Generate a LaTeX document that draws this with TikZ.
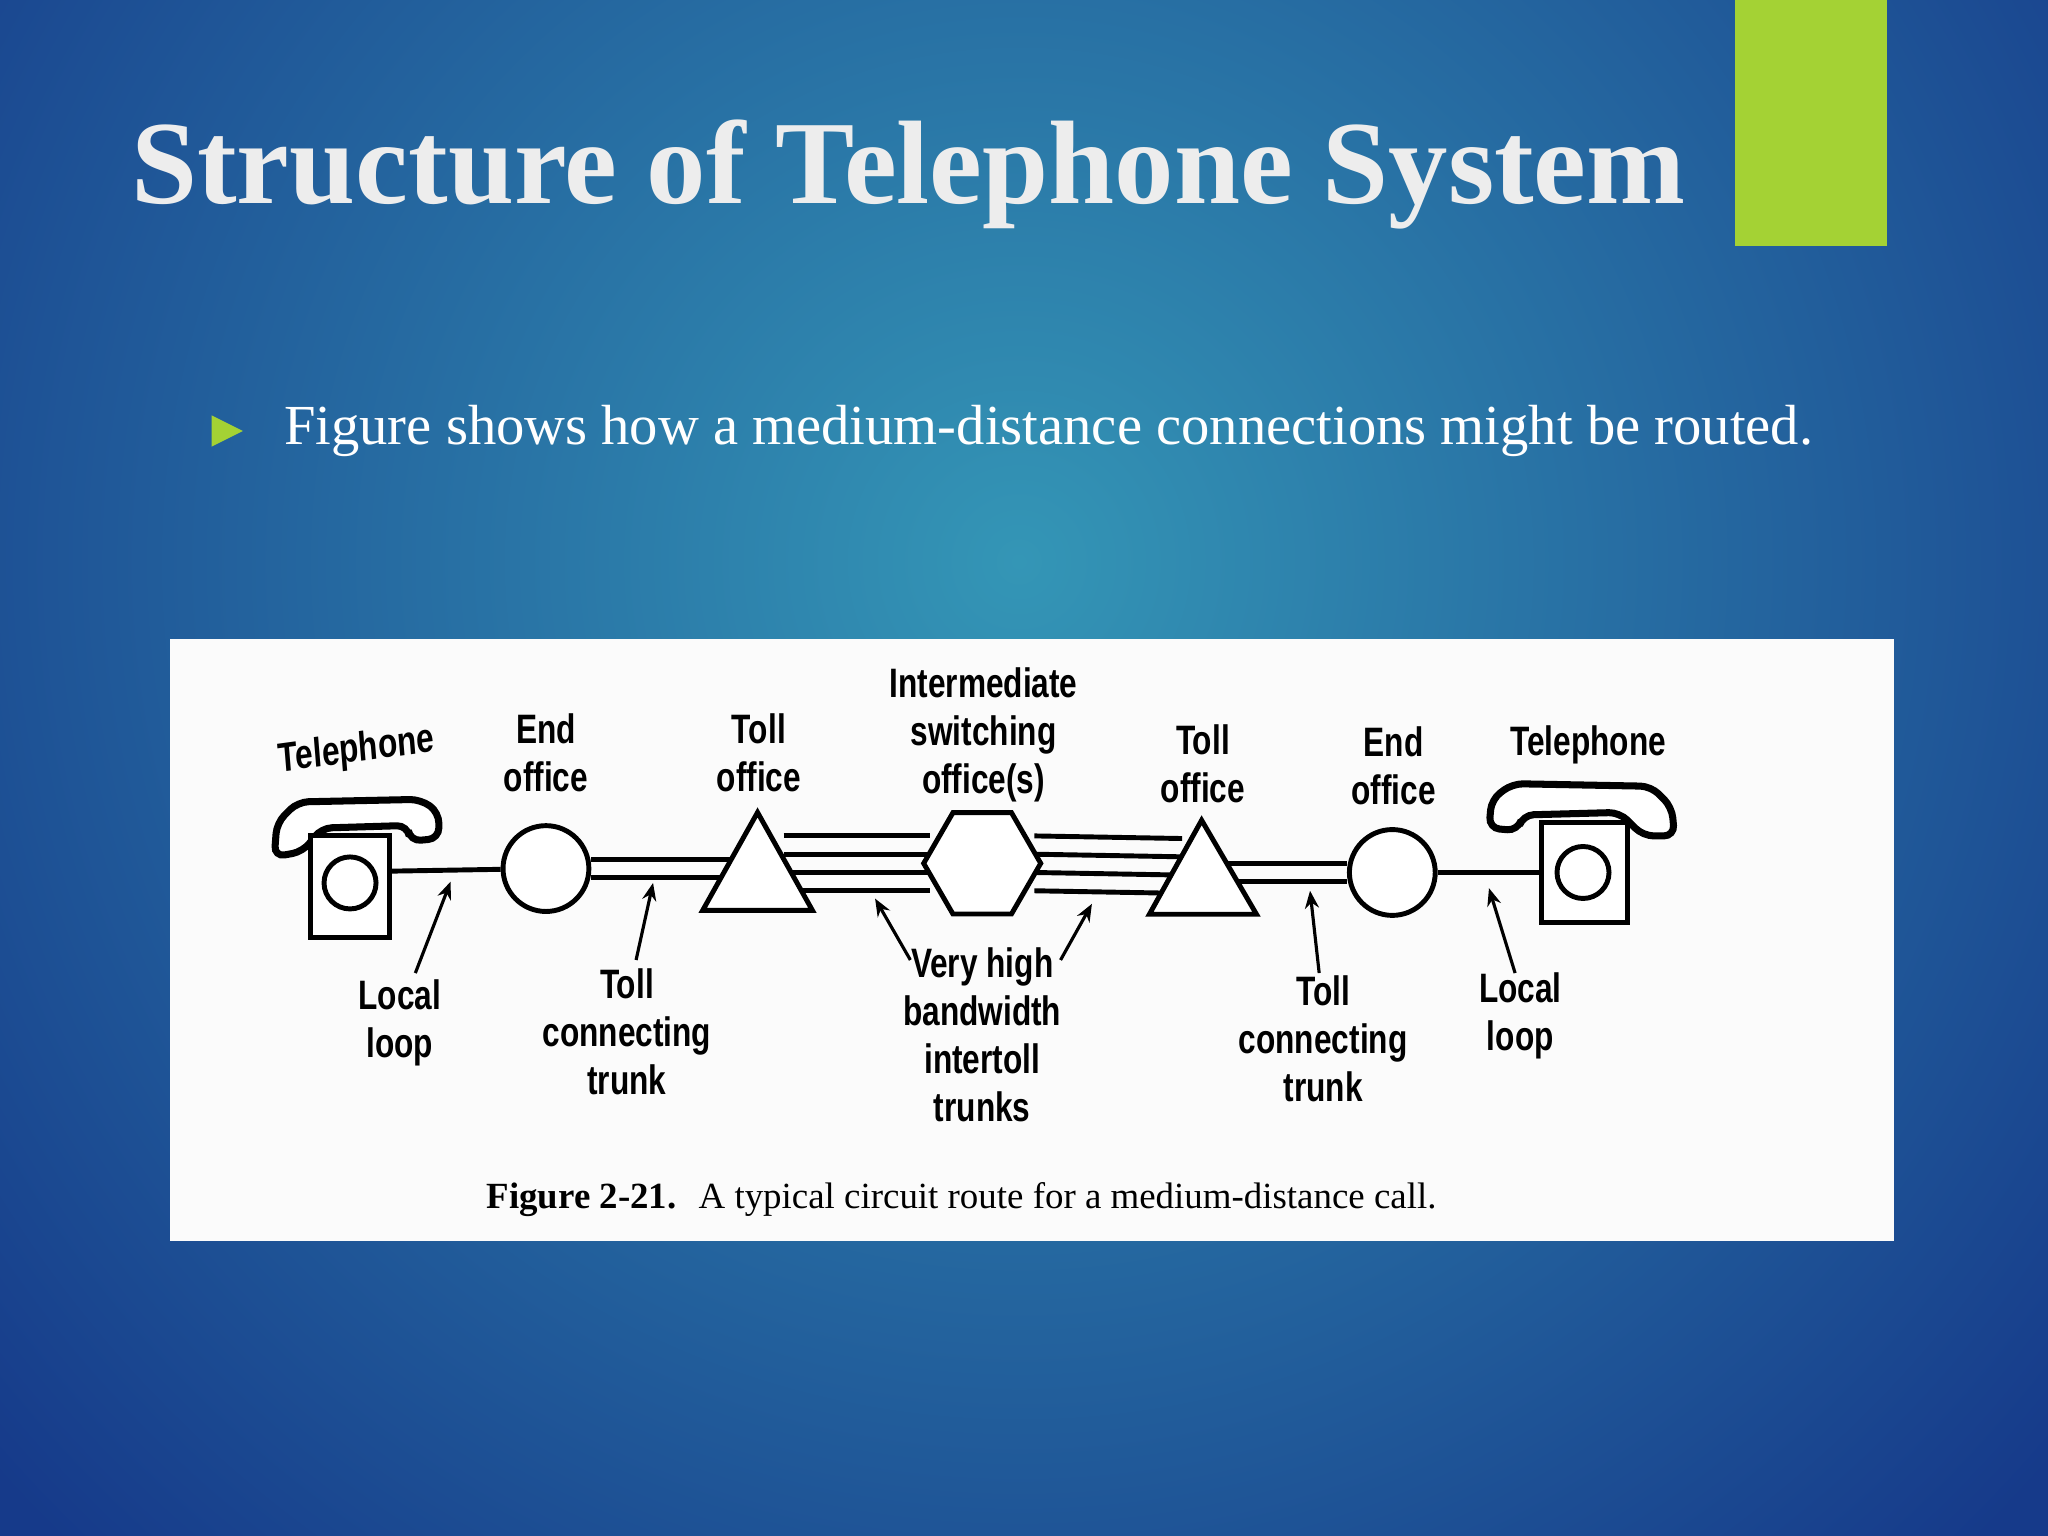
\documentclass[tikz,border=0pt]{standalone}
\usepackage{fontspec}
\setmainfont{Liberation Serif}
\newfontfamily\lab{Liberation Sans}
\usetikzlibrary{shapes.geometric,arrows.meta}
\definecolor{bgdark}{RGB}{22,58,138}
\definecolor{bglight}{RGB}{52,150,182}
\definecolor{accent}{RGB}{164,210,52}
\tikzset{
  lbl/.style={font=\lab\bfseries\fontsize{9}{10.5}\selectfont, align=center, inner sep=0pt, yscale=1.3, transform shape},
  ln/.style={line width=1.4pt, black},
  arr/.style={line width=0.9pt, -{Stealth[length=5pt,width=4pt]}},
}
\begin{document}
\begin{tikzpicture}[x=0.013061cm,y=-0.013061cm]
\useasboundingbox (0,0) rectangle (1568,1176);
\fill[bgdark] (0,0) rectangle (1568,1176);
\begin{scope}
\clip (0,0) rectangle (1568,1176);
\shade[inner color=bglight, outer color=bgdark] (780,430) circle (1050);
\end{scope}
\fill[accent] (1328,0) rectangle (1445,188);
\node[anchor=base west, inner sep=0pt, text=white!93!black, font=\bfseries\fontsize{33.8}{40}\selectfont] (title) at (100,156) {Structure of Telephone System};
\fill[accent] (162,318) -- (186,330) -- (162,342) -- cycle;
\node[anchor=base west, inner sep=0pt, text=white, font=\fontsize{16.1}{19}\selectfont] (bullet) at (217,340) {Figure shows how a medium-distance connections might be routed.};
\fill[white!97!gray] (130,489) rectangle (1450,950);
% left telephone
\draw[line width=2pt, fill=white, rounded corners=3pt] (210,656) -- (212,630) -- (228,614) -- (322,612) -- (336,622) -- (336,642) -- (314,644) -- (312,632) -- (246,634) -- (232,652) -- cycle;
\draw[ln, fill=white] (238,640) rectangle (298,718);
\node[circle, draw, line width=1.4pt, minimum size=40pt*0.37] (tl) at (268,676) {};
% right telephone
\draw[line width=2pt, fill=white, rounded corners=3pt] (1282,640) -- (1280,618) -- (1264,602) -- (1158,600) -- (1142,612) -- (1140,634) -- (1162,636) -- (1166,624) -- (1240,622) -- (1258,640) -- cycle;
\draw[ln, fill=white] (1180,630) rectangle (1246,706);
\node[circle, draw, line width=1.4pt, minimum size=40pt*0.37] (tr) at (1212,668) {};
% offices
\node[circle, draw, line width=1.4pt, fill=white, minimum size=66*0.37pt, inner sep=0pt] (e1) at (418,665) {};
\node[circle, draw, line width=1.4pt, fill=white, minimum size=66*0.37pt, inner sep=0pt] (e2) at (1066,668) {};
% lines
\draw[ln] (298,667) -- (e1);
\draw[ln] (e2) -- (1180,668);
\foreach \dy in {-7,7}{
  \draw[ln] ([yshift=-\dy*0.37pt]e1.east) -- ++(120,0);
  \draw[ln] ([yshift=-\dy*0.37pt]e2.west) -- ++(-120,0);
}
\foreach \dy in {-21,-7,7,21}{
  \draw[ln] (600,661+\dy) -- (712,661+\dy);
  \draw[ln] (792,661+\dy) -- (905,663+\dy);
}
\draw[ln, fill=white] (580,622) -- (622,697) -- (538,697) -- cycle;
\draw[ln, fill=white] (920,628) -- (962,700) -- (880,700) -- cycle;
\node[regular polygon, regular polygon sides=6, draw, line width=1.4pt, minimum width=90*0.37pt, inner sep=0pt, fill=white] (h) at (752,661) {};
% top labels
\node[lbl, rotate=6] (l1) at (273,575) {Telephone};
\node[lbl] (l2) at (418,576) {End\\office};
\node[lbl] (l3) at (581,576) {Toll\\office};
\node[lbl] (l4) at (753,563) {Intermediate\\switching\\office(s)};
\node[lbl] (l5) at (921,585) {Toll\\office};
\node[lbl] (l6) at (1067,586) {End\\office};
\node[lbl] (l7) at (1216,570) {Telephone};
% bottom labels
\node[lbl] (b1) at (306,783) {Local\\loop};
\node[lbl] (b2) at (480,790) {Toll\\connecting\\trunk};
\node[lbl] (b3) at (752,792) {Very high\\bandwidth\\intertoll\\trunks};
\node[lbl] (b4) at (1013,795) {Toll\\connecting\\trunk};
\node[lbl] (b5) at (1164,778) {Local\\loop};
\coordinate (a1) at (345,675); \coordinate (a2) at (500,676);
\coordinate (a3) at (670,688); \coordinate (a4) at (836,692);
\coordinate (a5) at (1003,682); \coordinate (a6) at (1140,680);
\draw[arr] (318,745) -- (a1);
\draw[arr] (487,735) -- (a2);
\draw[arr] (697,735) -- (a3);
\draw[arr] (812,735) -- (a4);
\draw[arr] (1010,745) -- (a5);
\draw[arr] (1160,745) -- (a6);
\node[anchor=base west, inner sep=0pt, font=\fontsize{10.5}{12}\selectfont] (cap) at (372,925) {\textbf{Figure 2-21.}\hspace{0.6em}A typical circuit route for a medium-distance call.};
\end{tikzpicture}
\end{document}
